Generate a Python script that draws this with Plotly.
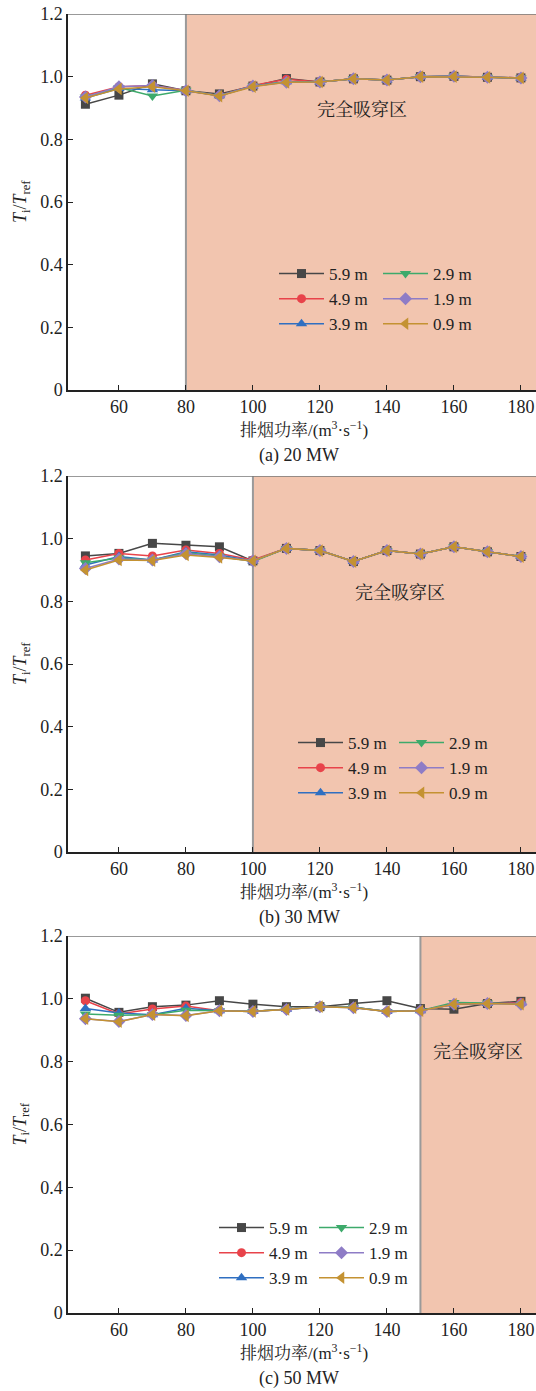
import plotly.graph_objects as go

# Exhaust rate (m^3/s) and normalised temperature T_i/T_ref at six heights
exhaust_rate = [50, 60, 70, 80, 90, 100, 110, 120, 130, 140, 150, 160, 170, 180]
heights = ["5.9 m", "4.9 m", "3.9 m", "2.9 m", "1.9 m", "0.9 m"]

# (a) 20 MW
t_20mw = {
    "5.9 m": [0.912, 0.941, 0.977, 0.955, 0.945, 0.970, 0.994, 0.983, 0.993, 0.989, 1.000, 1.001, 0.998, 0.996],
    "4.9 m": [0.941, 0.968, 0.972, 0.955, 0.940, 0.972, 0.992, 0.983, 0.993, 0.989, 1.000, 1.001, 0.998, 0.996],
    "3.9 m": [0.932, 0.962, 0.958, 0.955, 0.939, 0.970, 0.984, 0.983, 0.993, 0.989, 1.000, 1.001, 0.998, 0.996],
    "2.9 m": [0.935, 0.965, 0.938, 0.957, 0.939, 0.970, 0.984, 0.983, 0.993, 0.989, 1.000, 1.001, 0.998, 0.996],
    "1.9 m": [0.935, 0.968, 0.972, 0.955, 0.939, 0.970, 0.982, 0.983, 0.993, 0.989, 1.000, 1.001, 0.998, 0.996],
    "0.9 m": [0.932, 0.961, 0.968, 0.955, 0.938, 0.968, 0.982, 0.983, 0.993, 0.989, 1.000, 1.000, 0.998, 0.996],
}
# (b) 30 MW
t_30mw = {
    "5.9 m": [0.945, 0.953, 0.985, 0.979, 0.974, 0.929, 0.969, 0.962, 0.927, 0.962, 0.951, 0.974, 0.958, 0.943],
    "4.9 m": [0.932, 0.953, 0.945, 0.964, 0.953, 0.932, 0.969, 0.962, 0.927, 0.962, 0.951, 0.974, 0.958, 0.943],
    "3.9 m": [0.916, 0.943, 0.932, 0.958, 0.948, 0.929, 0.969, 0.962, 0.927, 0.962, 0.951, 0.974, 0.958, 0.943],
    "2.9 m": [0.923, 0.938, 0.932, 0.955, 0.944, 0.927, 0.969, 0.962, 0.927, 0.962, 0.951, 0.974, 0.958, 0.943],
    "1.9 m": [0.905, 0.935, 0.932, 0.952, 0.942, 0.929, 0.969, 0.962, 0.927, 0.962, 0.951, 0.974, 0.958, 0.943],
    "0.9 m": [0.900, 0.932, 0.930, 0.948, 0.940, 0.929, 0.969, 0.962, 0.927, 0.962, 0.951, 0.974, 0.958, 0.943],
}
# (c) 50 MW
t_50mw = {
    "5.9 m": [1.002, 0.957, 0.975, 0.980, 0.994, 0.983, 0.975, 0.975, 0.985, 0.994, 0.969, 0.967, 0.985, 0.992],
    "4.9 m": [0.994, 0.952, 0.968, 0.977, 0.962, 0.960, 0.967, 0.975, 0.973, 0.960, 0.962, 0.983, 0.985, 0.988],
    "3.9 m": [0.969, 0.955, 0.949, 0.970, 0.962, 0.960, 0.967, 0.975, 0.973, 0.960, 0.962, 0.983, 0.985, 0.985],
    "2.9 m": [0.952, 0.948, 0.949, 0.964, 0.962, 0.960, 0.967, 0.975, 0.973, 0.960, 0.962, 0.988, 0.987, 0.983],
    "1.9 m": [0.937, 0.928, 0.950, 0.947, 0.962, 0.960, 0.966, 0.975, 0.972, 0.960, 0.962, 0.983, 0.985, 0.983],
    "0.9 m": [0.937, 0.927, 0.950, 0.946, 0.962, 0.960, 0.966, 0.975, 0.972, 0.960, 0.962, 0.983, 0.985, 0.983],
}

panel_data = [t_20mw, t_30mw, t_50mw]
captions = ["(a) 20 MW", "(b) 30 MW", "(c) 50 MW"]
breakthrough_start = [80, 100, 150]   # onset of full plug-holing
region_label = "完全吸穿区"
region_label_pos = [(132.5, 0.894), (143.9, 0.827), (167.2, 0.830)]

x_ticks = [60, 80, 100, 120, 140, 160, 180]
y_ticks = [0, 0.2, 0.4, 0.6, 0.8, 1.0, 1.2]
y_ticktext = ["0", "0.2", "0.4", "0.6", "0.8", "1.0", "1.2"]

colors = {"5.9 m": "#474747", "4.9 m": "#E8434A", "3.9 m": "#2F6FC1",
          "2.9 m": "#3DAA6B", "1.9 m": "#8E7CC6", "0.9 m": "#C49232"}
symbols = {"5.9 m": "square", "4.9 m": "circle", "3.9 m": "triangle-up",
           "2.9 m": "triangle-down", "1.9 m": "diamond", "0.9 m": "triangle-left"}
sizes = {"5.9 m": 9, "4.9 m": 9, "3.9 m": 10, "2.9 m": 10, "1.9 m": 10, "0.9 m": 11}

SERIF = "Liberation Serif, Times New Roman, Noto Serif CJK SC, Noto Sans CJK SC, serif"
SHADE = "#F2C5AF"
INK = "#222"

# page geometry (pixels)
W, H = 536, 1391
ML, MR, MT, MB = 68, 0, 14, 78
plot_w = W - ML - MR
plot_h = H - MT - MB
panel_tops = [14, 476, 936]
panel_bottoms = [390, 852, 1313]
x_range = [44.8, 184.5]


def py(p):
    """pixel row -> paper y"""
    return (H - MB - p) / plot_h


def px(p):
    """pixel column -> paper x"""
    return (p - ML) / plot_w


fig = go.Figure()

# top-left corner (pixels) of each legend column
legend_cols = [
    [(274, 256), (378, 256)],
    [(293, 725), (394, 725)],
    [(214, 1210), (314, 1210)],
]

shapes = []
annotations = []
layout_extra = {}

for i, data in enumerate(panel_data):
    n = "" if i == 0 else str(i + 1)
    xa, ya = "x" + n, "y" + n
    for j, h in enumerate(heights):
        leg_idx = 2 * i + (0 if j < 3 else 1)
        leg_name = "legend" if leg_idx == 0 else "legend" + str(leg_idx + 1)
        fig.add_trace(go.Scatter(
            x=exhaust_rate, y=data[h], name=h, mode="lines+markers",
            xaxis=xa, yaxis=ya, legend=leg_name,
            line=dict(color=colors[h], width=1.5),
            marker=dict(symbol=symbols[h], size=sizes[h], color=colors[h]),
        ))
    layout_extra["xaxis" + n] = dict(
        domain=[0, 1], anchor=ya, range=x_range, tickvals=x_ticks,
        ticks="inside", ticklen=5, tickwidth=1.2, tickcolor=INK,
        showline=True, linecolor=INK, linewidth=1.5,
        showgrid=False, zeroline=False,
        tickfont=dict(family=SERIF, size=18, color=INK),
    )
    layout_extra["yaxis" + n] = dict(
        domain=[py(panel_bottoms[i]), py(panel_tops[i])], anchor=xa,
        range=[0, 1.2], tickvals=y_ticks, ticktext=y_ticktext,
        ticks="inside", ticklen=5, tickwidth=1.2, tickcolor=INK,
        showline=True, linecolor=INK, linewidth=1.5,
        showgrid=False, zeroline=False,
        tickfont=dict(family=SERIF, size=18, color=INK),
    )
    # shaded full plug-holing region and its boundary
    shapes.append(dict(type="rect", xref=xa, yref=ya, x0=breakthrough_start[i], x1=x_range[1],
                       y0=0, y1=1.2, fillcolor=SHADE, line=dict(width=0), layer="below"))
    shapes.append(dict(type="line", xref=xa, yref=ya, x0=breakthrough_start[i], x1=breakthrough_start[i],
                       y0=0, y1=1.2, line=dict(color="#9A9A9A", width=2), layer="below"))
    # top frame line
    shapes.append(dict(type="line", xref=xa, yref=ya, x0=x_range[0], x1=x_range[1],
                       y0=1.2, y1=1.2, line=dict(color="#777", width=1.5), layer="above"))
    lx, ly = region_label_pos[i]
    annotations.append(dict(text=region_label, x=lx, y=ly, xref=xa, yref=ya, showarrow=False,
                            font=dict(family=SERIF, size=18, color=INK)))
    # y title
    annotations.append(dict(text="<i>T</i><sub>i</sub>/<i>T</i><sub>ref</sub>",
                            x=px(21), y=py((panel_tops[i] + panel_bottoms[i]) / 2),
                            xref="paper", yref="paper", textangle=-90, showarrow=False,
                            xanchor="center", yanchor="middle",
                            font=dict(family=SERIF, size=18, color=INK)))
    # x title and caption
    annotations.append(dict(text="排烟功率/(m<sup>3</sup>·s<sup>−1</sup>)",
                            x=px(304), y=py(panel_bottoms[i] + 39), xref="paper", yref="paper",
                            showarrow=False, xanchor="center", yanchor="middle",
                            font=dict(family=SERIF, size=17, color=INK)))
    annotations.append(dict(text=captions[i],
                            x=px(299), y=py(panel_bottoms[i] + 65), xref="paper", yref="paper",
                            showarrow=False, xanchor="center", yanchor="middle",
                            font=dict(family=SERIF, size=18, color=INK)))
    for k, (lxp, lyp) in enumerate(legend_cols[i]):
        leg_idx = 2 * i + k
        leg_name = "legend" if leg_idx == 0 else "legend" + str(leg_idx + 1)
        layout_extra[leg_name] = dict(
            x=px(lxp), y=py(lyp), xref="paper", yref="paper",
            xanchor="left", yanchor="top", orientation="v",
            bgcolor="rgba(0,0,0,0)", borderwidth=0, tracegroupgap=0,
            itemwidth=45,
            font=dict(family=SERIF, size=17, color=INK),
        )

fig.update_layout(
    width=W, height=H,
    margin=dict(l=ML, r=MR, t=MT, b=MB, pad=0),
    paper_bgcolor="white", plot_bgcolor="white",
    shapes=shapes, annotations=annotations,
    showlegend=True,
    **layout_extra,
)

fig.write_html("out.html")
